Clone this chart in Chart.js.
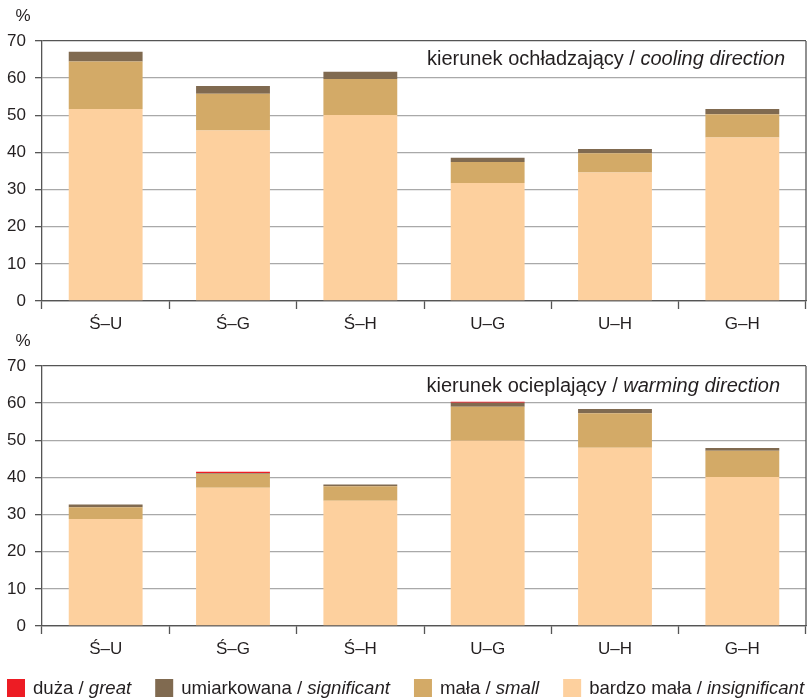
<!DOCTYPE html>
<html>
<head>
<meta charset="utf-8">
<script src="https://cdn.jsdelivr.net/npm/chart.js@4/dist/chart.umd.min.js"></script>
<style>
  html, body { margin: 0; padding: 0; background: #fff; }
  .panel { position: relative; width: 807px; }
  #coolingBox { height: 335px; }
  #warmingBox { height: 378px; margin-top: -14px; }
</style>
</head>
<body>
<div class="panel" id="coolingBox"><canvas id="cooling"></canvas></div>
<div class="panel" id="warmingBox"><canvas id="warming"></canvas></div>
<script>
// Station pairs compared
const categories = ['Ś–U', 'Ś–G', 'Ś–H', 'U–G', 'U–H', 'G–H'];
const yTickValues = [0, 10, 20, 30, 40, 50, 60, 70];

// Class names (Polish / English), from the bottom of each stack upwards
const classPl = ['bardzo mała', 'mała', 'umiarkowana', 'duża'];
const classEn = ['insignificant', 'small', 'significant', 'great'];
const classColors = ['#fdd09e', '#d3aa67', '#806a50', '#ed1c24'];

// Cooling direction, % share per class
const coolInsignificant = [51.7, 45.9, 50.1, 31.8, 34.6, 44.0];
const coolSmall         = [12.8,  9.9,  9.7,  5.6,  5.2,  6.3];
const coolSignificant   = [ 2.6,  2.1,  1.9,  1.2,  1.1,  1.4];
const coolGreat         = [ 0.0,  0.0,  0.0,  0.0,  0.0,  0.0];

// Warming direction, % share per class
const warmInsignificant = [28.8, 37.2, 33.7, 49.9, 48.0, 40.1];
const warmSmall         = [ 3.2,  3.8,  3.9,  9.1,  9.3,  7.1];
const warmSignificant   = [ 0.7,  0.2,  0.5,  1.1,  1.1,  0.7];
const warmGreat         = [ 0.0,  0.3,  0.0,  0.3,  0.0,  0.0];

const FONT = '"Liberation Sans", Arial, Helvetica, sans-serif';
const TEXT = '#231f20';
const AXIS = '#555555';
const GRID = '#a9a9a9';

Chart.defaults.font.family = FONT;
Chart.defaults.color = TEXT;

function makeDatasets(series) {
  return series.map((data, i) => ({
    label: classPl[i] + ' / ' + classEn[i],
    namePl: classPl[i],
    nameEn: classEn[i],
    data: data,
    backgroundColor: classColors[i],
    borderWidth: 0,
    barPercentage: 0.58,
    categoryPercentage: 1.0,
    stack: 'all'
  }));
}

// Frame on the right, caption inside the plot and the "%" unit above the axis
const panelDecor = {
  id: 'panelDecor',
  afterDraw(chart, args, opts) {
    const { ctx, chartArea: a } = chart;
    ctx.save();
    ctx.strokeStyle = AXIS;
    ctx.lineWidth = 1.3;
    ctx.beginPath();
    ctx.moveTo(a.right, a.top);
    ctx.lineTo(a.right, a.bottom);
    ctx.stroke();

    const fN = '20px ' + FONT;
    const fI = 'italic 20px ' + FONT;
    ctx.fillStyle = TEXT;
    ctx.textAlign = 'left';
    ctx.textBaseline = 'alphabetic';
    ctx.font = fI;
    const wI = ctx.measureText(opts.caption[1]).width;
    ctx.font = fN;
    const wN = ctx.measureText(opts.caption[0]).width;
    const xr = a.right - opts.captionRight;
    const yb = a.top + opts.captionBaseline;
    ctx.fillText(opts.caption[0], xr - wI - wN, yb);
    ctx.font = fI;
    ctx.fillText(opts.caption[1], xr - wI, yb);

    ctx.font = '17px ' + FONT;
    ctx.textBaseline = 'middle';
    ctx.fillText('%', 15.5, a.top - opts.unitOffset);
    ctx.restore();
  }
};

// Legend with the English name in italics
const splitLegend = {
  id: 'splitLegend',
  afterDraw(chart, args, opts) {
    if (!opts || !opts.show) return;
    const ctx = chart.ctx;
    const items = chart.data.datasets.slice().reverse();
    const box = 18;
    const yc = chart.height - opts.bottom;
    const fN = '18.6px ' + FONT;
    const fI = 'italic 18.6px ' + FONT;
    let x = opts.left;
    ctx.save();
    ctx.textAlign = 'left';
    ctx.textBaseline = 'middle';
    items.forEach(ds => {
      ctx.fillStyle = ds.backgroundColor;
      ctx.fillRect(x, yc - box / 2, box, box);
      x += box + 8;
      ctx.fillStyle = TEXT;
      ctx.font = fN;
      const first = ds.namePl + ' / ';
      ctx.fillText(first, x, yc + 1);
      x += ctx.measureText(first).width;
      ctx.font = fI;
      ctx.fillText(ds.nameEn, x, yc + 1);
      x += ctx.measureText(ds.nameEn).width + 24;
    });
    ctx.restore();
  }
};

function makeChart(canvasId, series, caption, captionRight, captionBaseline, padTop, padBottom, withLegend) {
  return new Chart(document.getElementById(canvasId), {
    type: 'bar',
    data: { labels: categories, datasets: makeDatasets(series) },
    plugins: [panelDecor, splitLegend],
    options: {
      responsive: true,
      maintainAspectRatio: false,
      animation: false,
      layout: { padding: { top: padTop, right: 1, bottom: padBottom, left: 0 } },
      plugins: {
        legend: { display: false },
        tooltip: { enabled: false },
        panelDecor: { caption: caption, captionRight: captionRight, captionBaseline: captionBaseline, unitOffset: 25 },
        splitLegend: { show: withLegend, left: 7, bottom: 11 }
      },
      scales: {
        x: {
          stacked: true,
          offset: true,
          afterFit: s => { s.height = 34; },
          grid: {
            offset: true,
            drawOnChartArea: false,
            drawTicks: true,
            tickLength: 8,
            tickColor: AXIS,
            tickWidth: 1.3
          },
          border: { color: AXIS, width: 1.3 },
          ticks: { font: { size: 17 }, color: TEXT, padding: 5, maxRotation: 0 }
        },
        y: {
          stacked: true,
          min: 0,
          max: 70,
          afterFit: s => { s.width = 42; },
          afterBuildTicks: s => { s.ticks = yTickValues.map(v => ({ value: v })); },
          grid: {
            color: c => (c.tick && (c.tick.value === 70 || c.tick.value === 0)) ? AXIS : GRID,
            lineWidth: 1.3,
            drawTicks: true,
            tickLength: 7,
            tickColor: AXIS
          },
          border: { color: AXIS, width: 1.3 },
          ticks: { font: { size: 17 }, color: TEXT, padding: 9 }
        }
      }
    }
  });
}

makeChart('cooling',
  [coolInsignificant, coolSmall, coolSignificant, coolGreat],
  ['kierunek ochładzający / ', 'cooling direction'], 21, 24, 41, 0, false);

makeChart('warming',
  [warmInsignificant, warmSmall, warmSignificant, warmGreat],
  ['kierunek ocieplający / ', 'warming direction'], 26, 25.5, 45, 39, true);
</script>
</body>
</html>
